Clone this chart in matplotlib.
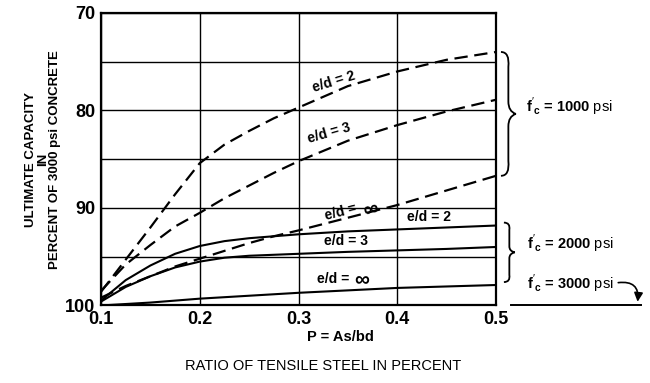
import numpy as np
import matplotlib
matplotlib.use("Agg")
import matplotlib.pyplot as plt
from matplotlib.path import Path
from matplotlib.patches import PathPatch

plt.rcParams['font.family'] = ['Liberation Sans', 'DejaVu Sans']
plt.rcParams['mathtext.fontset'] = 'custom'
plt.rcParams['mathtext.rm'] = 'Liberation Sans'
plt.rcParams['mathtext.bf'] = 'Liberation Sans:bold'

# steel ratio (percent) and capacity (percent of 3000 psi concrete)
p = [0.1, 0.125, 0.15, 0.175, 0.2, 0.225, 0.25, 0.275, 0.3, 0.35, 0.4, 0.45, 0.5]

# f'c = 1000 psi (dashed)
c1000_ed2 = [98.6, 95.3, 92.0, 88.6, 85.4, 83.5, 82.1, 80.8, 79.7, 77.5, 76.0, 74.8, 74.0]
c1000_ed3 = [98.5, 95.8, 93.8, 91.9, 90.5, 89.0, 87.7, 86.4, 85.2, 83.1, 81.5, 80.1, 78.9]
c1000_edinf = [99.2, 98.0, 97.0, 96.0, 95.2, 94.4, 93.6, 92.9, 92.3, 91.0, 89.7, 88.2, 86.7]

# f'c = 2000 psi (solid)
c2000_ed2 = [99.5, 97.4, 95.9, 94.7, 93.9, 93.4, 93.1, 92.9, 92.7, 92.4, 92.2, 92.0, 91.8]
c2000_ed3 = [99.6, 98.1, 97.0, 96.1, 95.5, 95.1, 94.9, 94.8, 94.7, 94.5, 94.35, 94.2, 94.0]
c2000_edinf = [100.0, 99.85, 99.7, 99.5, 99.3, 99.15, 99.0, 98.85, 98.7, 98.45, 98.2, 98.05, 97.9]

x_ticks = [0.1, 0.2, 0.3, 0.4, 0.5]
y_ticks = [70, 80, 90, 100]
y_minor = [75, 85, 95]

fig = plt.figure(figsize=(6.5, 3.83), dpi=100)
ax = fig.add_axes([0.1554, 0.2024, 0.6077, 0.7637])

for ys in (c1000_ed2, c1000_ed3, c1000_edinf):
    ax.plot(p, ys, color='black', lw=1.6, dashes=(6, 3), zorder=3)
for ys in (c2000_ed2, c2000_ed3, c2000_edinf):
    ax.plot(p, ys, color='black', lw=1.5, solid_joinstyle='round', zorder=3)

ax.set_xlim(0.1, 0.5)
ax.set_ylim(100, 70)
ax.set_xticks(x_ticks)
ax.set_xticklabels([str(v) for v in x_ticks])
ax.set_yticks(y_ticks)
ax.set_yticklabels([str(v) for v in y_ticks])
ax.set_yticks(y_minor, minor=True)
ax.grid(True, which='both', color='black', lw=1.0)
ax.tick_params(which='both', length=0, labelsize=13, pad=4)
for lab in ax.get_xticklabels() + ax.get_yticklabels():
    lab.set_fontweight('bold')
for s in ax.spines.values():
    s.set_linewidth(1.6)

# curve labels
lbl = dict(fontsize=10, fontweight='bold', ha='center', va='center')
inf = dict(fontsize=15, fontweight='bold', ha='left', va='center')
ax.text(0.336, 77.1, 'e/d = 2', rotation=17, **lbl)
ax.text(0.331, 82.3, 'e/d = 3', rotation=16, **lbl)
ax.text(0.343, 90.4, 'e/d =', rotation=14, **lbl)
ax.annotate('∞', xy=(0.343, 90.4), xytext=(14.5, 1.5), textcoords='offset points',
            rotation=14, **inf)
ax.text(0.432, 90.9, 'e/d = 2', **lbl)
ax.text(0.348, 93.4, 'e/d = 3', **lbl)
ax.text(0.335, 97.3, 'e/d =', **lbl)
ax.annotate('∞', xy=(0.335, 97.3), xytext=(15, -1), textcoords='offset points', **inf)


def brace(x0, y0, y1, w):
    # vertical "}" from y0 to y1 with its tip pointing right
    ym = (y0 + y1) / 2
    h = (y1 - y0)
    verts = [(x0, y0), (x0 + w * 0.6, y0), (x0 + w * 0.5, y0 + h * 0.12),
             (x0 + w * 0.5, ym - h * 0.1), (x0 + w * 0.5, ym - h * 0.02), (x0 + w, ym),
             (x0 + w * 0.5, ym + h * 0.02), (x0 + w * 0.5, ym + h * 0.1),
             (x0 + w * 0.5, y1 - h * 0.12), (x0 + w * 0.6, y1), (x0, y1)]
    codes = [Path.MOVETO, Path.CURVE3, Path.CURVE3, Path.LINETO,
             Path.CURVE3, Path.CURVE3, Path.CURVE3, Path.CURVE3,
             Path.LINETO, Path.CURVE3, Path.CURVE3]
    ax.add_patch(PathPatch(Path(verts, codes), fc='none', ec='black',
                           lw=1.3, clip_on=False))


brace(0.505, 74.0, 86.7, 0.015)
brace(0.508, 91.5, 97.6, 0.011)

flbl = dict(fontsize=10.5, fontweight='bold', va='center', ha='left', clip_on=False)
ax.text(0.530, 79.6, r"$\mathbf{f}'_{\mathbf{c}}$ = 1000 $\mathrm{psi}$", **flbl)
ax.text(0.531, 93.7, r"$\mathbf{f}'_{\mathbf{c}}$ = 2000 $\mathrm{psi}$", **flbl)
ax.text(0.531, 97.8, r"$\mathbf{f}'_{\mathbf{c}}$ = 3000 $\mathrm{psi}$", **flbl)

# f'c = 3000 psi reference level
ax.plot([0.515, 0.647], [100, 100], color='black', lw=1.4, clip_on=False)
ax.annotate('', xy=(0.643, 99.9), xytext=(0.621, 97.7),
            arrowprops=dict(arrowstyle='-|>', color='black', lw=1.2,
                            connectionstyle='arc3,rad=-0.7', mutation_scale=13),
            annotation_clip=False)

ax.set_ylabel('ULTIMATE CAPACITY\nIN\nPERCENT OF 3000 psi CONCRETE',
              fontsize=9.5, fontweight='bold', linespacing=1.0, labelpad=3)
fig.text(340 / 650, 1 - 337 / 383, 'P = As/bd', fontsize=10.5, fontweight='bold',
         ha='center', va='center')
fig.text(323 / 650, 1 - 366 / 383, 'RATIO OF TENSILE STEEL IN PERCENT',
         fontsize=10.5, ha='center', va='center')

fig.savefig('out.png', dpi=100)
